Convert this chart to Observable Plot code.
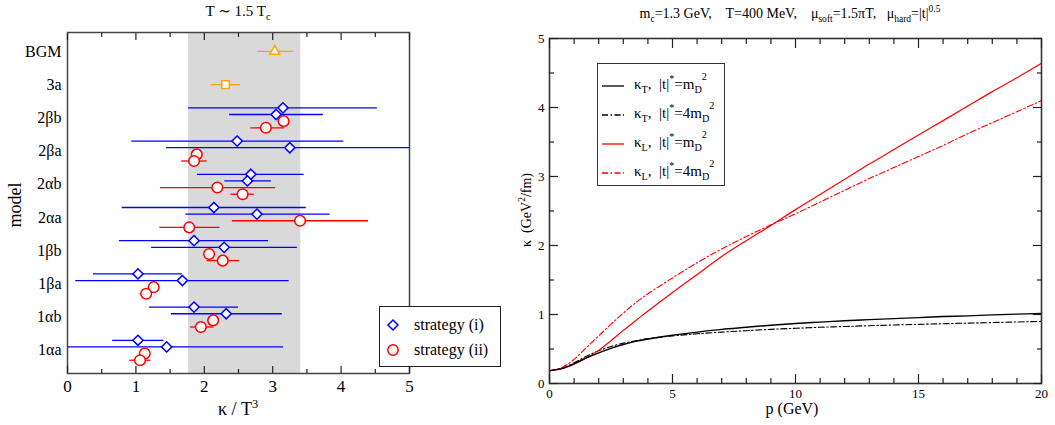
<!DOCTYPE html>
<html><head><meta charset="utf-8">
<script src="https://cdn.jsdelivr.net/npm/d3@7"></script>
<script src="https://cdn.jsdelivr.net/npm/@observablehq/plot@0.6"></script>
<style>
body{margin:0;background:#fff;font-family:"Liberation Serif","DejaVu Serif",serif;color:#000;}
#wrap{position:relative;width:1055px;height:425px;overflow:hidden;background:#fff;font-family:"Liberation Serif","DejaVu Serif",serif;}
.abs{position:absolute;white-space:nowrap;line-height:1;}
.sb{font-size:68%;vertical-align:-0.4em;}
.sp{font-size:68%;vertical-align:0.65em;}
.lg{position:absolute;background:#fff;box-sizing:border-box;}
.row{position:absolute;white-space:nowrap;line-height:1;}
svg text{font-family:"Liberation Serif","DejaVu Serif",serif !important;}
</style></head><body><div id="wrap"></div>
<script>
// ---------- Left panel data ----------
const models = ["1αa","1αb","1βa","1βb","2αa","2αb","2βa","2βb","3a","BGM"];
const bandLo = 1.77, bandHi = 3.41;
// strategy (i): two estimates per model (1αa ... 2βb)
const sIa    = [1.03, 1.85, 1.03, 1.85, 2.14, 2.68, 2.48, 3.15];
const sIaLo  = [0.66, 1.20, 0.38, 0.76, 0.80, 1.90, 0.94, 1.77];
const sIaHi  = [1.41, 2.50, 1.68, 2.94, 3.49, 3.46, 4.04, 4.53];
const sIb    = [1.45, 2.32, 1.68, 2.29, 2.77, 2.63, 3.25, 3.05];
const sIbLo  = [-0.26,1.52, 0.12, 1.23, 1.73, 2.30, 1.45, 2.37];
const sIbHi  = [3.16, 3.14, 3.24, 3.36, 3.84, 2.98, 5.05, 3.74];
// strategy (ii)
const sIIa   = [1.13, 2.13, 1.26, 2.07, 3.40, 2.19, 1.89, 3.16];
const sIIaLo = [1.06, 2.05, 1.19, 2.00, 2.41, 1.36, 1.82, 3.08];
const sIIaHi = [1.20, 2.21, 1.33, 2.14, 4.40, 3.04, 1.97, 3.24];
const sIIb   = [1.06, 1.95, 1.15, 2.27, 1.78, 2.56, 1.85, 2.90];
const sIIbLo = [0.91, 1.80, 1.06, 2.04, 1.35, 2.39, 1.67, 2.68];
const sIIbHi = [1.22, 2.14, 1.24, 2.52, 2.23, 2.73, 2.04, 3.17];
// single estimates
const val3a = 2.31, lo3a = 2.10, hi3a = 2.53;
const valBGM = 3.03, loBGM = 2.78, hiBGM = 3.31;

// ---------- Right panel data ----------
const pGrid = [0,0.5,1,1.5,2,2.5,3,3.5,4,5,6,7,8,9,10,11,12,13,14,15,16,17,18,19,20];
const kT_m  = [0.185,0.215,0.285,0.37,0.445,0.51,0.565,0.61,0.645,0.70,0.745,0.785,0.815,0.845,0.87,0.89,0.91,0.925,0.94,0.955,0.97,0.98,0.995,1.005,1.015];
const kT_4m = [0.185,0.22,0.30,0.395,0.475,0.535,0.585,0.62,0.65,0.69,0.72,0.745,0.765,0.785,0.80,0.815,0.826,0.838,0.848,0.857,0.866,0.875,0.883,0.892,0.90];
const kL_m  = [0.185,0.215,0.28,0.37,0.48,0.62,0.77,0.91,1.05,1.32,1.58,1.84,2.07,2.29,2.52,2.74,2.96,3.18,3.39,3.60,3.81,4.02,4.23,4.43,4.64];
const kL_4m = [0.185,0.23,0.35,0.52,0.69,0.86,1.02,1.17,1.30,1.53,1.75,1.95,2.13,2.30,2.46,2.63,2.80,2.97,3.13,3.29,3.45,3.62,3.78,3.94,4.10];

const xTicksL = [0,1,2,3,4,5];
const xMinorL = [0.5,1.5,2.5,3.5,4.5];
const xTicksR = [0,5,10,15,20];
const xMinorR = d3.range(0,21).filter(v => v % 5 !== 0);
const yTicksR = [0,1,2,3,4,5];
const yMinorR = [0.5,1.5,2.5,3.5,4.5];

const BLUE = "#0000ff", RED = "#ff0000", ORANGE = "#ffa500";
const FONT = "Liberation Serif, DejaVu Serif, serif";
const fmtInt = d => String(d);

function rows(v, lo, hi, off) {
  return v.map((d, i) => ({y: i + 1 + off, v: d, lo: lo[i], hi: hi[i]}));
}
const dI1 = rows(sIa, sIaLo, sIaHi, 0.3);
const dI2 = rows(sIb, sIbLo, sIbHi, 0.1);
const dII1 = rows(sIIa, sIIaLo, sIIaHi, -0.1);
const dII2 = rows(sIIb, sIIbLo, sIIbHi, -0.3);
const d3a = [{y: 9, v: val3a, lo: lo3a, hi: hi3a}];
const dBGM = [{y: 10, v: valBGM, lo: loBGM, hi: hiBGM}];
const blanks = () => "";

function tickAxes(axis, anchors, majors, minors, majLen, minLen) {
  const A = axis === "x" ? Plot.axisX : Plot.axisY;
  const out = [];
  for (const a of anchors) {
    out.push(A({anchor: a, ticks: majors, tickSize: -majLen, tickFormat: blanks, label: null, stroke: "#222", strokeWidth: 1.2}));
    out.push(A({anchor: a, ticks: minors, tickSize: -minLen, tickFormat: blanks, label: null, stroke: "#222", strokeWidth: 1.2}));
  }
  return out;
}

const left = Plot.plot({
  width: 420, height: 425,
  marginLeft: 67, marginRight: 11, marginTop: 32, marginBottom: 52,
  x: {domain: [0, 5]},
  y: {domain: [0.3, 10.57]},
  style: {fontFamily: FONT, background: "transparent", color: "#000", overflow: "visible"},
  marks: [
    Plot.rectX([{lo: bandLo, hi: bandHi}], {x1: "lo", x2: "hi", fill: "#d9d9d9"}),
    Plot.ruleY(dI1, {y: "y", x1: "lo", x2: "hi", stroke: BLUE, strokeWidth: 1.3, clip: true}),
    Plot.ruleY(dI2, {y: "y", x1: "lo", x2: "hi", stroke: BLUE, strokeWidth: 1.3, clip: true}),
    Plot.ruleY(dII1, {y: "y", x1: "lo", x2: "hi", stroke: RED, strokeWidth: 1.3, clip: true}),
    Plot.ruleY(dII2, {y: "y", x1: "lo", x2: "hi", stroke: RED, strokeWidth: 1.3, clip: true}),
    Plot.ruleY(d3a, {y: "y", x1: "lo", x2: "hi", stroke: ORANGE, strokeWidth: 1.3}),
    Plot.ruleY(dBGM, {y: "y", x1: "lo", x2: "hi", stroke: ORANGE, strokeWidth: 1.3}),
    Plot.dot(dI1, {x: "v", y: "y", symbol: "diamond2", r: 4.6, stroke: BLUE, fill: "white", strokeWidth: 1.5}),
    Plot.dot(dI2, {x: "v", y: "y", symbol: "diamond2", r: 4.6, stroke: BLUE, fill: "white", strokeWidth: 1.5}),
    Plot.dot(dII1, {x: "v", y: "y", r: 5.3, stroke: RED, fill: "white", strokeWidth: 1.5}),
    Plot.dot(dII2, {x: "v", y: "y", r: 5.3, stroke: RED, fill: "white", strokeWidth: 1.5}),
    Plot.dot(d3a, {x: "v", y: "y", symbol: "square2", r: 4.8, stroke: ORANGE, fill: "white", strokeWidth: 1.5}),
    Plot.dot(dBGM, {x: "v", y: "y", symbol: "triangle2", r: 4.8, stroke: ORANGE, fill: "white", strokeWidth: 1.5}),
    Plot.frame({stroke: "#444", strokeWidth: 1.5}),
    ...tickAxes("x", ["bottom", "top"], xTicksL, xMinorL, 7, 4),
    Plot.axisX({ticks: xTicksL, tickFormat: fmtInt, tickSize: 0, tickPadding: 6, label: null, fontSize: 17, fontFamily: FONT}),
    Plot.axisY({ticks: d3.range(1, 11), tickFormat: i => models[i - 1], tickSize: 0, tickPadding: 6, label: null, fontSize: 16, fontFamily: FONT})
  ]
});

function series(arr) { return pGrid.map((p, i) => ({p, k: arr[i]})); }
const DASHDOT = "6,2.5,1.5,2.5";

const right = Plot.plot({
  width: 555, height: 425,
  marginLeft: 49, marginRight: 14, marginTop: 38, marginBottom: 42,
  x: {domain: [0, 20]},
  y: {domain: [0, 5]},
  style: {fontFamily: FONT, background: "transparent", color: "#000", overflow: "visible"},
  marks: [
    Plot.line(series(kT_4m), {x: "p", y: "k", stroke: "#000", strokeWidth: 1.1, strokeDasharray: DASHDOT, curve: "catmull-rom"}),
    Plot.line(series(kL_4m), {x: "p", y: "k", stroke: RED, strokeWidth: 1.1, strokeDasharray: DASHDOT, curve: "catmull-rom"}),
    Plot.line(series(kL_m), {x: "p", y: "k", stroke: RED, strokeWidth: 1.2, curve: "catmull-rom"}),
    Plot.line(series(kT_m), {x: "p", y: "k", stroke: "#000", strokeWidth: 1.4, curve: "catmull-rom"}),
    Plot.frame({stroke: "#333", strokeWidth: 1.6}),
    ...tickAxes("x", ["bottom", "top"], xTicksR, xMinorR, 9, 5),
    ...tickAxes("y", ["left", "right"], yTicksR, yMinorR, 9, 5),
    Plot.axisX({ticks: xTicksR, tickFormat: fmtInt, tickSize: 0, tickPadding: 5, label: null, fontSize: 13, fontFamily: FONT}),
    Plot.axisY({ticks: yTicksR, tickFormat: fmtInt, tickSize: 0, tickPadding: 5, label: null, fontSize: 13, fontFamily: FONT})
  ]
});

const wrap = document.getElementById("wrap");
for (const [svg, x] of [[left, 0], [right, 500]]) {
  svg.style.position = "absolute";
  svg.style.left = x + "px";
  svg.style.top = "0px";
  wrap.appendChild(svg);
}

function addText(html, x, y, size, opts = {}) {
  const el = document.createElement("div");
  el.className = "abs";
  el.innerHTML = html;
  el.style.fontSize = size + "px";
  el.style.left = x + "px";
  el.style.top = y + "px";
  el.style.transform = (opts.rotate ? "translate(-50%,-50%) rotate(-90deg)" : "translate(-50%,-50%)");
  wrap.appendChild(el);
  return el;
}
// titles & axis labels
addText('T ∼ 1.5 T<span class="sb">c</span>', 238, 13, 15);
addText('m<span class="sb">c</span>=1.3 GeV, &nbsp;&nbsp; T=400 MeV, &nbsp;&nbsp; μ<span class="sb">soft</span>=1.5πT, &nbsp; μ<span class="sb">hard</span>=|t|<span class="sp">0.5</span>', 790, 15, 14);
addText('κ / T<span class="sp">3</span>', 238, 408, 18);
addText('model', 15, 205, 18, {rotate: true});
addText('p (GeV)', 792, 409, 16);
addText('κ &nbsp;(GeV<span class="sp">2</span>/fm)', 526, 210, 14, {rotate: true});

// left legend
const lgL = document.createElement("div");
lgL.className = "lg";
Object.assign(lgL.style, {left: "379px", top: "306px", width: "122px", height: "61px", border: "1.2px solid #222"});
wrap.appendChild(lgL);
const legL = [
  {label: "strategy (i)", svg: `<svg width="14" height="14"><path d="M7 2 L12 7 L7 12 L2 7 Z" fill="white" stroke="${BLUE}" stroke-width="1.5"/></svg>`},
  {label: "strategy (ii)", svg: `<svg width="14" height="14"><circle cx="7" cy="7" r="5.2" fill="white" stroke="${RED}" stroke-width="1.5"/></svg>`}
];
legL.forEach((d, i) => {
  const r = document.createElement("div");
  r.className = "row";
  r.style.left = "6px"; r.style.top = (9 + i * 25) + "px"; r.style.fontSize = "16px";
  r.innerHTML = `<span style="display:inline-block;vertical-align:middle;width:14px;height:14px">${d.svg}</span><span style="display:inline-block;vertical-align:middle;margin-left:14px">${d.label}</span>`;
  lgL.appendChild(r);
});

// right legend
const lgR = document.createElement("div");
lgR.className = "lg";
Object.assign(lgR.style, {left: "597px", top: "63px", width: "128px", height: "123px", border: "1.5px solid #333"});
wrap.appendChild(lgR);
const legR = [
  {k: "T", f: "", c: "#000", dash: ""},
  {k: "T", f: "4", c: "#000", dash: DASHDOT},
  {k: "L", f: "", c: RED, dash: ""},
  {k: "L", f: "4", c: RED, dash: DASHDOT}
];
legR.forEach((d, i) => {
  const r = document.createElement("div");
  r.className = "row";
  r.style.left = "4px"; r.style.top = (8 + i * 29) + "px"; r.style.fontSize = "15px";
  r.innerHTML = `<svg width="22" height="10" style="vertical-align:middle"><line x1="0" y1="5" x2="22" y2="5" stroke="${d.c}" stroke-width="1.3" stroke-dasharray="${d.dash}"/></svg>` +
    `<span style="margin-left:10px">κ<span class="sb">${d.k}</span>, &nbsp;|t|<span class="sp">*</span>=${d.f}m<span class="sb">D</span><span class="sp" style="vertical-align:0.9em">2</span></span>`;
  lgR.appendChild(r);
});
</script>
</body></html>
